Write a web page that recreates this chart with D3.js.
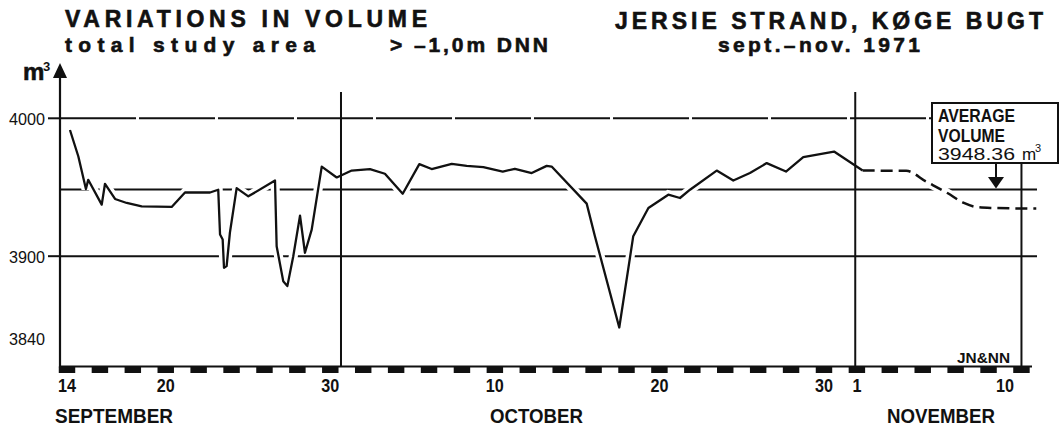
<!DOCTYPE html>
<html>
<head>
<meta charset="utf-8">
<script src="https://cdn.jsdelivr.net/npm/d3@7"></script>
<style>
body { margin: 0; background: #fff; }
svg { display: block; }
text { font-family: "Liberation Sans", Arial, sans-serif; fill: #111; }
.heavy { stroke: #111; stroke-width: 0.6; }
</style>
</head>
<body>
<svg id="chart" width="1060" height="430"></svg>
<script>
// day 0 = 14 september 1971, volumes in m3
var days = [0.18, 0.69, 1.15, 1.29, 2.11, 2.31, 2.92, 3.63, 4.54, 6.36,
  7.17, 8.69, 9.19, 9.30, 9.46, 9.54, 9.70, 9.90, 10.31, 11.02,
  12.64, 12.74, 13.14, 13.39, 13.75, 14.16, 14.46, 14.87, 15.48, 16.39,
  17.30, 18.41, 19.32, 20.40, 21.41, 22.16, 23.38, 24.29, 25.30, 26.48,
  27.22, 28.24, 29.15, 29.45, 31.58, 32.08, 33.56, 34.41, 35.33, 36.54,
  37.25, 37.86, 39.48, 40.49, 41.50, 42.52, 43.69, 44.74, 46.61, 48.35];
var volume = [3991.5, 3972.3, 3948.7, 3955.4, 3937.4, 3952.5, 3941.5, 3938.6, 3936.1, 3935.7,
  3946.2, 3946.2, 3948.2, 3915.7, 3912.1, 3891.6, 3892.8, 3917.1, 3949.4, 3943.4,
  3954.9, 3907.2, 3881.9, 3878.3, 3900.0, 3929.4, 3902.5, 3919.3, 3965.0, 3957.1,
  3962.1, 3963.2, 3959.8, 3945.3, 3966.8, 3963.2, 3967.0, 3965.5, 3964.6, 3961.4,
  3963.4, 3960.3, 3965.5, 3965.0, 3938.1, 3914.5, 3848.3, 3914.5, 3935.0, 3944.6,
  3942.2, 3948.2, 3962.1, 3954.9, 3960.3, 3967.5, 3961.4, 3971.8, 3975.9, 3962.1];

// dashed continuation into november
var forecastDays = [48.35, 51.0, 52.2, 53.5, 54.5, 55.3, 56.2, 58.9];
var forecastVolume = [3962.1, 3961.9, 3954.2, 3945.8, 3938.6, 3935.6, 3935.0, 3934.5];

var averageVolume = 3948.36;
var yTicks = [4000, 3900, 3840];
var xTickDays = [0, 6, 16, 26, 36, 46, 48, 57];
var xTickLabels = ["14", "20", "30", "10", "20", "30", "1", "10"];
var months = ["SEPTEMBER", "OCTOBER", "NOVEMBER"];
var dividerDays = [16.65, 47.9];

var svg = d3.select("#chart"),
    ink = "#111",
    x = d3.scaleLinear().domain([0, 57]).range([67, 1005]),
    y = d3.scaleLinear().domain([3820, 4000]).range([366.5, 118.3]),
    left = 60,
    right = 1037,
    base = y(3820);

function txt(s, px, py, size, opts) {
  opts = opts || {};
  var t = svg.append("text")
    .attr("x", px).attr("y", py)
    .attr("font-size", size)
    .attr("font-weight", opts.weight || "bold")
    .attr("text-anchor", opts.anchor || "start")
    .text(s);
  if (opts.len) t.attr("textLength", opts.len).attr("lengthAdjust", opts.adjust || "spacing");
  if (opts.heavy) t.attr("class", "heavy");
  return t;
}

// titles
txt("VARIATIONS IN VOLUME", 65, 27, 23, {len: 362, heavy: true});
txt("total study area", 65, 52, 21, {len: 250, heavy: true});
txt("> \u20131,0m DNN", 390, 52, 21, {len: 158, heavy: true});
txt("JERSIE STRAND, K\u00d8GE BUGT", 615, 29, 23, {len: 428, heavy: true});
txt("sept.\u2013nov. 1971", 718, 52, 21, {len: 202, heavy: true});

// horizontal reference lines
svg.append("line")
  .attr("x1", left).attr("x2", 932)
  .attr("y1", y(4000)).attr("y2", y(4000))
  .attr("stroke", ink).attr("stroke-width", 2)
  .attr("stroke-dasharray", "76,3");
[averageVolume, 3900].forEach(function (v) {
  svg.append("line")
    .attr("x1", left).attr("x2", right)
    .attr("y1", y(v)).attr("y2", y(v))
    .attr("stroke", ink).attr("stroke-width", 2);
});

var line = d3.line()
  .x(function (d) { return x(d[0]); })
  .y(function (d) { return y(d[1]); });
var curve = d3.line()
  .curve(d3.curveMonotoneX)
  .x(function (d) { return x(d[0]); })
  .y(function (d) { return y(d[1]); });

var measured = d3.zip(days, volume),
    forecast = d3.zip(forecastDays, forecastVolume);

// white halo so the grid is broken where the curve crosses it
svg.append("path").attr("d", line(measured))
  .attr("fill", "none").attr("stroke", "#fff").attr("stroke-width", 9);
svg.append("path").attr("d", curve(forecast))
  .attr("fill", "none").attr("stroke", "#fff").attr("stroke-width", 9);

// month dividers
dividerDays.forEach(function (d) {
  svg.append("line")
    .attr("x1", x(d)).attr("x2", x(d))
    .attr("y1", 92).attr("y2", base)
    .attr("stroke", ink).attr("stroke-width", 2);
});
svg.append("line")
  .attr("x1", x(58)).attr("x2", x(58))
  .attr("y1", 163).attr("y2", base)
  .attr("stroke", ink).attr("stroke-width", 2);

svg.append("path").attr("d", line(measured))
  .attr("fill", "none").attr("stroke", ink).attr("stroke-width", 2.3)
  .attr("stroke-linejoin", "round");
svg.append("path").attr("d", curve(forecast))
  .attr("fill", "none").attr("stroke", ink).attr("stroke-width", 2.5)
  .attr("stroke-dasharray", "12,6");

// y axis with arrow
svg.append("line")
  .attr("x1", left).attr("x2", left)
  .attr("y1", 76).attr("y2", base + 1)
  .attr("stroke", ink).attr("stroke-width", 2.2);
svg.append("path")
  .attr("d", "M" + (left - 7) + ",78L" + (left + 7) + ",78L" + left + ",63Z")
  .attr("fill", ink);
txt("m", 23, 80, 24, {heavy: true});
txt("3", 43, 71, 13);

yTicks.forEach(function (v) {
  if (v !== 3840) {
    svg.append("line")
      .attr("x1", 48).attr("x2", left)
      .attr("y1", y(v)).attr("y2", y(v))
      .attr("stroke", ink).attr("stroke-width", 2);
  }
  txt(v, 45, y(v) + 6.5, 17, {weight: "normal", anchor: "end", len: 36, adjust: "spacingAndGlyphs"});
});

// x axis: base line plus alternating day blocks
svg.append("line")
  .attr("x1", left).attr("x2", 1032)
  .attr("y1", base).attr("y2", base)
  .attr("stroke", ink).attr("stroke-width", 2);
svg.selectAll("rect.day")
  .data(d3.range(0, 59, 2))
  .enter().append("rect")
  .attr("class", "day")
  .attr("x", function (d) { return x(d - 0.5); })
  .attr("width", function (d) { return x(d + 0.5) - x(d - 0.5); })
  .attr("y", base)
  .attr("height", 6.5)
  .attr("fill", ink);

xTickDays.forEach(function (d, i) {
  var s = xTickLabels[i];
  txt(s, x(d), 392, 18, {anchor: "middle", len: s.length * 9, adjust: "spacingAndGlyphs"});
});

// month names
var monthAnchor = [-0.73, 25.7, 49.83],
    monthWidth = [118, 93, 108];
months.forEach(function (m, i) {
  txt(m, x(monthAnchor[i]), 423, 21, {len: monthWidth[i], adjust: "spacingAndGlyphs"});
});

txt("JN&NN", 957, 363, 14, {len: 53, adjust: "spacingAndGlyphs"});

// average volume note
svg.append("rect")
  .attr("x", 932).attr("y", 103)
  .attr("width", 126).attr("height", 60)
  .attr("fill", "#fff").attr("stroke", ink).attr("stroke-width", 2);
txt("AVERAGE", 938, 122, 19, {len: 77, adjust: "spacingAndGlyphs"});
txt("VOLUME", 938, 142, 19, {len: 67, adjust: "spacingAndGlyphs"});
txt(averageVolume.toFixed(2), 938, 160, 17, {weight: "normal", len: 77, adjust: "spacingAndGlyphs"});
txt("m", 1022, 160, 17, {weight: "normal"});
txt("3", 1035, 152, 11, {weight: "normal"});

svg.append("line")
  .attr("x1", 996).attr("x2", 996)
  .attr("y1", 163).attr("y2", 178)
  .attr("stroke", ink).attr("stroke-width", 2);
svg.append("path")
  .attr("d", "M988,177L1004,177L996," + (y(averageVolume) - 1) + "Z")
  .attr("fill", ink);
</script>
</body>
</html>
